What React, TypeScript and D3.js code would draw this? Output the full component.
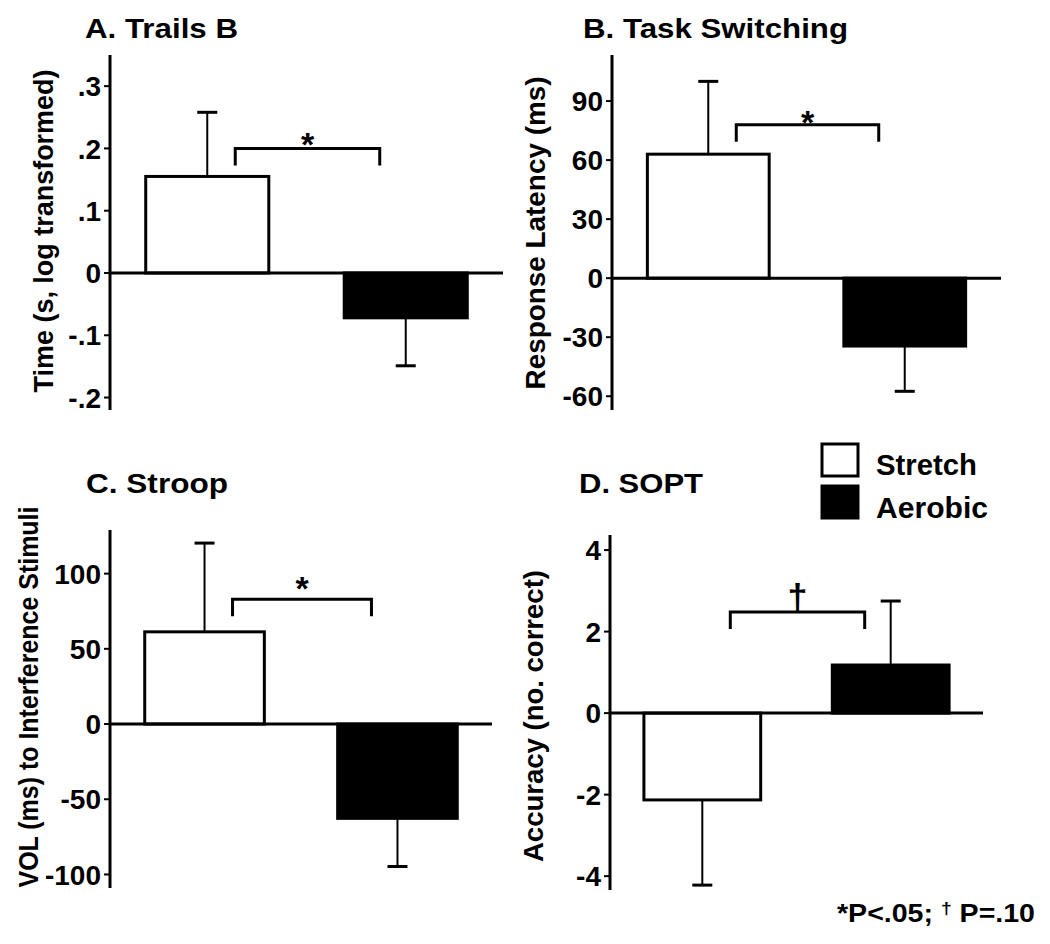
import React from "react";
import * as d3 from "d3";

// ---------- data ----------
const groups = ["Stretch", "Aerobic"];

const trailsMean = [0.155, -0.072];
const trailsSE = [0.103, 0.077];
const trailsTicks = [0.3, 0.2, 0.1, 0, -0.1, -0.2];
const trailsTickLabels = [".3", ".2", ".1", "0", "-.1", "-.2"];
const trailsBracket = 0.2;

const taskMean = [63, -34.5];
const taskSE = [37, 23];
const taskTicks = [90, 60, 30, 0, -30, -60];
const taskTickLabels = ["90", "60", "30", "0", "-30", "-60"];
const taskBracket = 78;

const stroopMean = [61.3, -62.7];
const stroopSE = [59, 32];
const stroopTicks = [100, 50, 0, -50, -100];
const stroopTickLabels = ["100", "50", "0", "-50", "-100"];
const stroopBracket = 83;

const soptMean = [-2.13, 1.18];
const soptSE = [2.09, 1.57];
const soptTicks = [4, 2, 0, -2, -4];
const soptTickLabels = ["4", "2", "0", "-2", "-4"];
const soptBracket = 2.48;

const titles = ["A. Trails B", "B. Task Switching", "C. Stroop", "D. SOPT"];
const yLabels = [
  "Time (s, log transformed)",
  "Response Latency (ms)",
  "VOL (ms) to Interference Stimuli",
  "Accuracy (no. correct)",
];
const sigMarks = ["*", "*", "*", "\u2020"];
const legendLabels = ["Stretch", "Aerobic"];
const footnoteParts = ["*P<.05; ", "\u2020", " P=.10"];

// ---------- layout ----------
const FONT = "'Liberation Sans', Arial, Helvetica, sans-serif";

const panels = [
  {
    mean: trailsMean, se: trailsSE, ticks: trailsTicks, tickLabels: trailsTickLabels, bracket: trailsBracket,
    domain: [-0.22, 0.35], axisX: 110, zeroEnd: 503, yTop: 55, yBottom: 410,
    title: { x: 85, y: 38, len: 153 }, ylab: { x: 53, cy: 231, len: 323 }, sigBase: 8, sigSize: 34,
  },
  {
    mean: taskMean, se: taskSE, ticks: taskTicks, tickLabels: taskTickLabels, bracket: taskBracket,
    domain: [-67, 113.4], axisX: 612, zeroEnd: 1001, yTop: 55, yBottom: 410,
    title: { x: 583, y: 38, len: 265 }, ylab: { x: 545, cy: 233, len: 313 }, sigBase: 9, sigSize: 34,
  },
  {
    mean: stroopMean, se: stroopSE, ticks: stroopTicks, tickLabels: stroopTickLabels, bracket: stroopBracket,
    domain: [-109, 129], axisX: 110, zeroEnd: 492, yTop: 530, yBottom: 888,
    title: { x: 86, y: 493, len: 142 }, ylab: { x: 38, cy: 697, len: 381 }, sigBase: 1, sigSize: 34,
  },
  {
    mean: soptMean, se: soptSE, ticks: soptTicks, tickLabels: soptTickLabels, bracket: soptBracket,
    domain: [-4.34, 4.37], axisX: 610, zeroEnd: 983, yTop: 535, yBottom: 890,
    title: { x: 579, y: 493, len: 124 }, ylab: { x: 543, cy: 716, len: 292 }, sigBase: -2, sigSize: 36,
  },
];

const fills = ["#ffffff", "#000000"];

function Panel({ p, i }: { p: any; i: number }) {
  const y = d3.scaleLinear().domain(p.domain).range([p.yBottom, p.yTop]);
  const x = d3
    .scaleBand()
    .domain(groups)
    .range([p.axisX, p.zeroEnd])
    .paddingInner(0.38)
    .paddingOuter(0.18);
  const bw = x.bandwidth();
  const y0 = y(0);
  const centers = groups.map((g) => (x(g) as number) + bw / 2);
  const bl = centers[0] + 28;
  const br = centers[1] - 26;
  const by = y(p.bracket);
  const drop = 17;

  return (
    <g>
      {/* title */}
      <text
        x={p.title.x}
        y={p.title.y}
        fontFamily={FONT}
        fontWeight="bold"
        fontSize={28}
        textLength={p.title.len}
        lengthAdjust="spacingAndGlyphs"
        fill="#000"
      >
        {titles[i]}
      </text>
      {/* y label */}
      <text
        transform={`translate(${p.ylab.x},${p.ylab.cy}) rotate(-90)`}
        textAnchor="middle"
        fontFamily={FONT}
        fontWeight="bold"
        fontSize={27}
        textLength={p.ylab.len}
        lengthAdjust="spacingAndGlyphs"
        fill="#000"
      >
        {yLabels[i]}
      </text>
      {/* bars */}
      {groups.map((g, k) => {
        const v = p.mean[k];
        const top = Math.min(y(v), y0);
        const h = Math.abs(y(v) - y0);
        const end = v >= 0 ? v + p.se[k] : v - p.se[k];
        return (
          <g key={g}>
            <line
              x1={centers[k]}
              x2={centers[k]}
              y1={y(v)}
              y2={y(end)}
              stroke="#000"
              strokeWidth={2}
            />
            <line
              x1={centers[k] - 10}
              x2={centers[k] + 10}
              y1={y(end)}
              y2={y(end)}
              stroke="#000"
              strokeWidth={3}
            />
            <rect
              x={x(g)}
              y={top}
              width={bw}
              height={h}
              fill={fills[k]}
              stroke="#000"
              strokeWidth={3}
            />
          </g>
        );
      })}
      {/* zero line */}
      <line x1={p.axisX} x2={p.zeroEnd} y1={y0} y2={y0} stroke="#000" strokeWidth={3} />
      {/* y axis */}
      <line x1={p.axisX} x2={p.axisX} y1={p.yTop} y2={p.yBottom} stroke="#000" strokeWidth={3} />
      {p.ticks.map((t: number, k: number) => (
        <g key={k}>
          <line x1={p.axisX - 6} x2={p.axisX} y1={y(t)} y2={y(t)} stroke="#000" strokeWidth={2} />
          <text
            x={p.axisX - 9}
            y={y(t)}
            dy="0.36em"
            textAnchor="end"
            fontFamily={FONT}
            fontWeight="bold"
            fontSize={28}
            fill="#000"
          >
            {p.tickLabels[k]}
          </text>
        </g>
      ))}
      {/* bracket */}
      <path
        d={`M${bl},${by + drop}V${by}H${br}V${by + drop}`}
        fill="none"
        stroke="#000"
        strokeWidth={3}
      />
      <text
        x={(bl + br) / 2}
        y={by + p.sigBase}
        textAnchor="middle"
        fontFamily={FONT}
        fontWeight="bold"
        fontSize={p.sigSize}
        fill="#000"
      >
        {sigMarks[i]}
      </text>
    </g>
  );
}

export default function App() {
  return (
    <svg width={1050} height={944} style={{ display: "block", position: "absolute", left: 0, top: 0 }}>
      <rect x={0} y={0} width={1050} height={944} fill="#fff" />
      {panels.map((p, i) => (
        <Panel key={i} p={p} i={i} />
      ))}
      {/* legend */}
      {legendLabels.map((l, k) => (
        <g key={l}>
          <rect
            x={822}
            y={444 + k * 42}
            width={36}
            height={32}
            fill={fills[k]}
            stroke="#000"
            strokeWidth={3}
          />
          <text
            x={876}
            y={475 + k * 43}
            fontFamily={FONT}
            fontWeight="bold"
            fontSize={29}
            textLength={k === 0 ? 101 : 112}
            lengthAdjust="spacingAndGlyphs"
            fill="#000"
          >
            {l}
          </text>
        </g>
      ))}
      {/* footnote */}
      <text
        x={837}
        y={922}
        fontFamily={FONT}
        fontWeight="bold"
        fontSize={25}
        textLength={198}
        lengthAdjust="spacingAndGlyphs"
        fill="#000"
      >
        <tspan>{footnoteParts[0]}</tspan>
        <tspan fontSize={17} dy={-8}>{footnoteParts[1]}</tspan>
        <tspan dy={8}>{footnoteParts[2]}</tspan>
      </text>
    </svg>
  );
}
